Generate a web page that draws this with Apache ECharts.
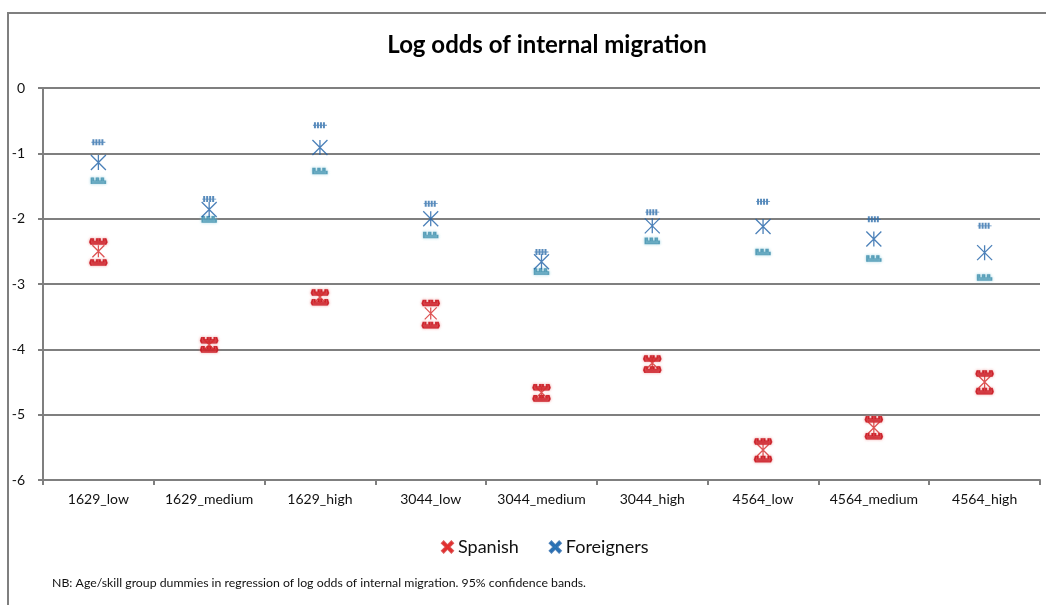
<!DOCTYPE html>
<html>
<head>
<meta charset="utf-8">
<script src="https://cdn.jsdelivr.net/npm/echarts@6/dist/echarts.min.js"></script>
<style>
  html, body { margin: 0; padding: 0; background: #fff; }
  #ChartDom { width: 1046px; height: 605px; }
</style>
</head>
<body>
<div id="ChartDom"></div>
<script>
const categories = ["1629_low", "1629_medium", "1629_high", "3044_low", "3044_medium", "3044_high", "4564_low", "4564_medium", "4564_high"]
// point estimates and 95% bands
const spanishEst = [-2.50, -3.93, -3.20, -3.45, -4.66, -4.21, -5.54, -5.20, -4.50]
const spanishHi = [-2.35, -3.86, -3.13, -3.29, -4.58, -4.14, -5.41, -5.07, -4.37]
const spanishLo = [-2.67, -4.00, -3.28, -3.63, -4.75, -4.31, -5.68, -5.33, -4.64]
const foreignEst = [-1.14, -1.86, -0.91, -2.00, -2.66, -2.11, -2.12, -2.31, -2.52]
const foreignHi = [-0.83, -1.70, -0.57, -1.77, -2.51, -1.90, -1.74, -2.01, -2.11]
const foreignLo = [-1.42, -2.01, -1.27, -2.25, -2.81, -2.34, -2.51, -2.61, -2.90]
const yTicks = [0, -1, -2, -3, -4, -5, -6]

const FONT = "Lato"
const GRID_GRAY = "#7f7f7f"

// excel style markers
const starPath = "path://M0,0L12,12M12,0L0,12M6,0L6,12"
const plusBarPath = "path://M0,3L14,3M2,0.5L2,5.5M5,0.5L5,5.5M8,0.5L8,5.5M11,0.5L11,5.5"
const cupBarPath = "path://M0,0L2,0L2,3L5,3L5,0L7,0L7,3L10,3L10,0L12,0L12,3L14,3L14,6L0,6Z"
const redCupPath = "path://M0,3L1,0L3,0L3,2L6,2L6,0L9,0L9,2L12,2L12,0L14,0L15,3L14,5L1,5Z"
const legendX = "path://M0,1.5L1.5,0L5,3.5L8.5,0L10,1.5L6.5,5L10,8.5L8.5,10L5,6.5L1.5,10L0,8.5L3.5,5Z"

const chartDom = document.getElementById("ChartDom")
const myChart = echarts.init(chartDom, null, { renderer: "canvas" })

function starSeries(name, data, color, size) {
  return {
    name: name,
    type: "scatter",
    data: data,
    symbol: starPath,
    symbolSize: size,
    z: 5,
    itemStyle: { color: color, borderColor: color, borderWidth: 1.3 },
  }
}

function bandSeries(name, data, symbol, size, fill, glow) {
  return {
    name: name,
    type: "scatter",
    data: data,
    symbol: symbol,
    symbolSize: size,
    z: 4,
    itemStyle: {
      color: fill,
      borderColor: fill,
      borderWidth: 1,
      shadowColor: glow,
      shadowBlur: 3,
    },
  }
}

let option = {
  animation: false,
  textStyle: { fontFamily: FONT },
  graphic: [
    {
      type: "rect",
      shape: { x: 8, y: 13, width: 1200, height: 800 },
      style: { fill: "none", stroke: GRID_GRAY, lineWidth: 2 },
      silent: true,
      z: -1,
    },
    {
      type: "text",
      x: 547,
      y: 45,
      style: {
        text: "Log odds of internal migration",
        fontFamily: FONT,
        fontWeight: "bold",
        fontSize: 24,
        fill: "#000",
        align: "center",
        verticalAlign: "middle",
      },
    },
    {
      type: "text",
      x: 52,
      y: 583,
      style: {
        text: "NB: Age/skill group dummies in regression of log odds of internal migration. 95% confidence bands.",
        fontFamily: FONT,
        fontSize: 12.3,
        fill: "#111",
        verticalAlign: "middle",
      },
    },
  ],
  legend: {
    left: 436,
    top: 533,
    itemWidth: 11,
    itemHeight: 11,
    itemGap: 30,
    textStyle: { fontFamily: FONT, fontSize: 18, color: "#111" },
    data: [
      { name: "Spanish", icon: legendX, itemStyle: { color: "#ff0000" } },
      { name: "Foreigners", icon: legendX, itemStyle: { color: "#0070c0" } },
    ],
  },
  grid: {
    top: 88,
    left: 43,
    right: 6,
    bottom: 125,
    containLabel: false,
  },
  xAxis: {
    type: "category",
    data: categories,
    boundaryGap: true,
    axisLine: { show: true, onZero: false, lineStyle: { color: GRID_GRAY, width: 2 } },
    axisTick: { show: true, length: 5, lineStyle: { color: GRID_GRAY, width: 2 } },
    axisLabel: { color: "#111", fontSize: 14, margin: 12, fontFamily: FONT, interval: 0 },
    splitLine: { show: false },
  },
  yAxis: {
    type: "value",
    min: yTicks[yTicks.length - 1],
    max: yTicks[0],
    interval: 1,
    axisLine: { show: true, lineStyle: { color: GRID_GRAY, width: 2 } },
    axisTick: { show: true, length: 5, lineStyle: { color: GRID_GRAY, width: 2 } },
    axisLabel: { color: "#111", fontSize: 14, margin: 18, fontFamily: FONT },
    splitLine: { show: true, lineStyle: { color: GRID_GRAY, width: 2 } },
  },
  series: [
    starSeries("Spanish", spanishEst, "#d42a2a", [12, 12]),
    starSeries("Foreigners", foreignEst, "#1f62a8", [15, 15]),
    bandSeries("Spanish hi", spanishHi, redCupPath, [17, 6], "#c8101a", "rgba(230,120,120,0.7)"),
    bandSeries("Spanish lo", spanishLo, redCupPath, [17, 6], "#c8101a", "rgba(230,120,120,0.7)"),
    {
      name: "Foreigners hi",
      type: "scatter",
      data: foreignHi,
      symbol: plusBarPath,
      symbolSize: [14, 6],
      z: 4,
      itemStyle: { color: "#2e6eab", borderColor: "#2e6eab", borderWidth: 1.3 },
    },
    bandSeries("Foreigners lo", foreignLo, cupBarPath, [14, 6], "#4a95b0", "rgba(140,200,220,0.8)"),
  ],
}

myChart.setOption(option)

window.addEventListener(
  "resize",
  () => {
    myChart.resize()
  },
  { passive: true }
)
</script>
</body>
</html>
